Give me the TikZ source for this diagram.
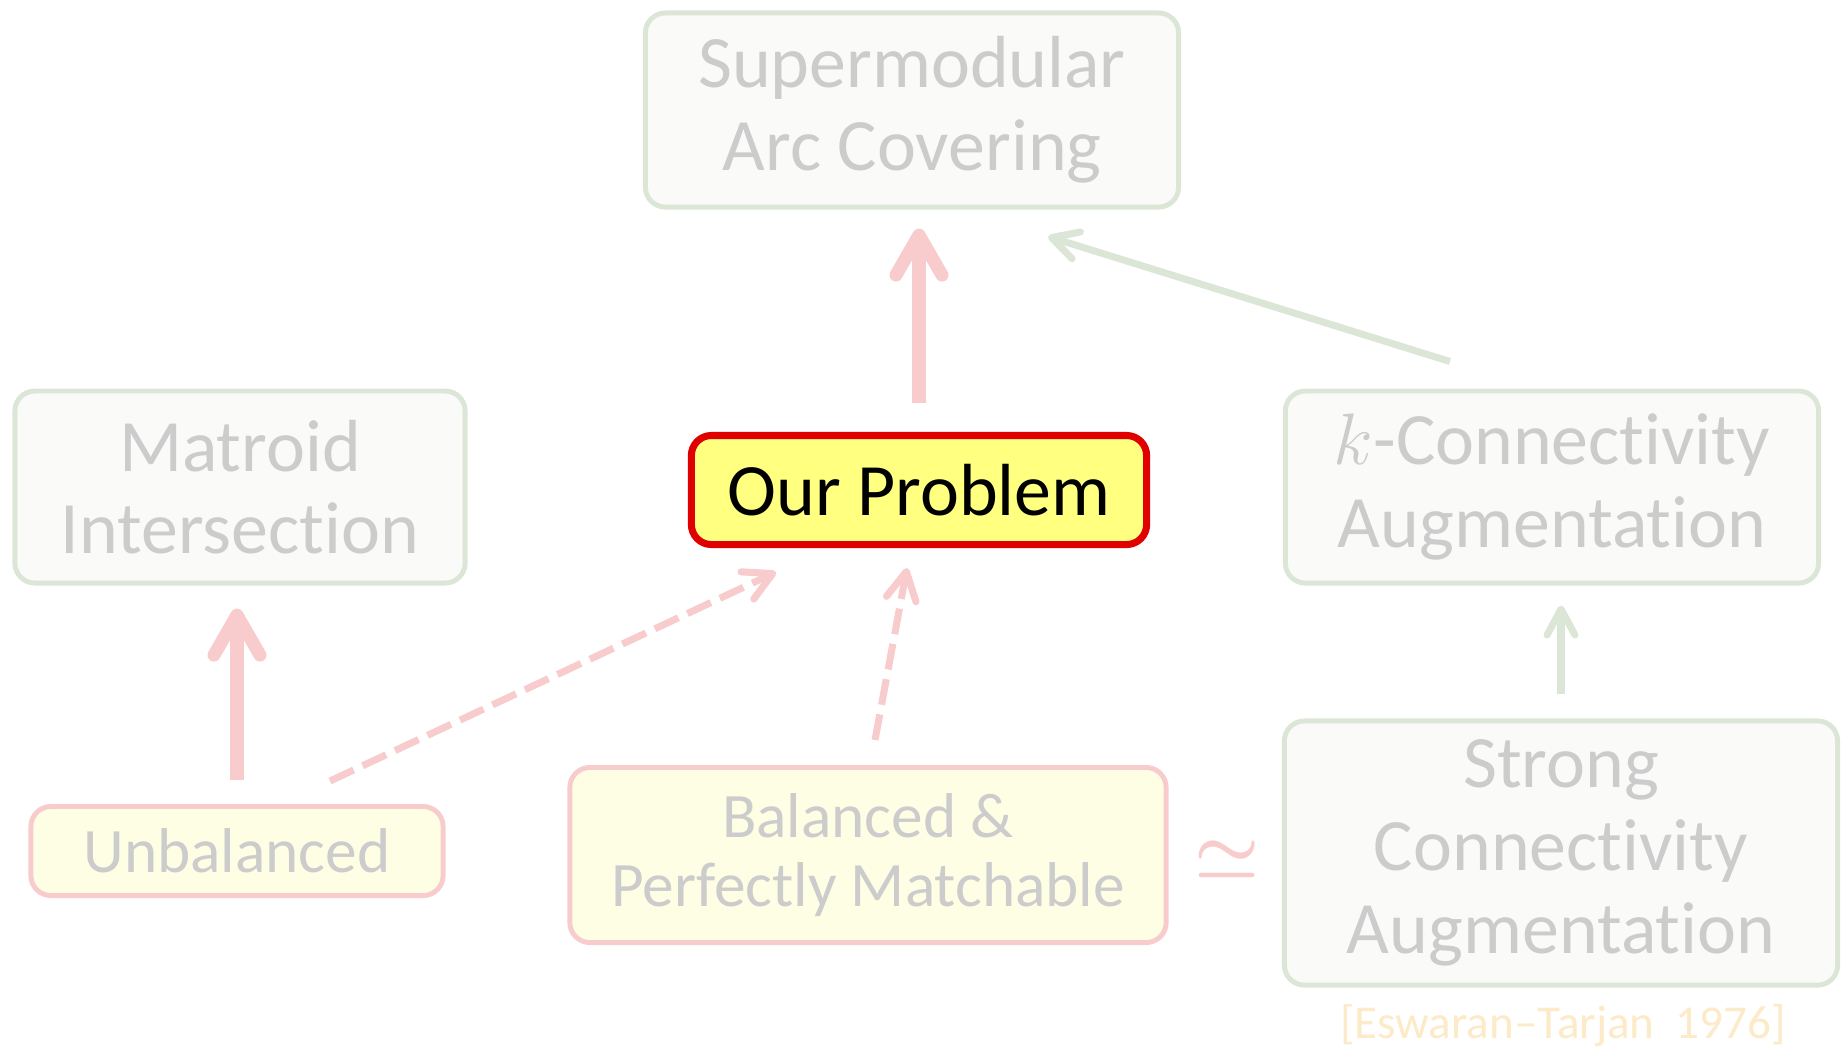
\documentclass[tikz,border=0pt]{standalone}
\usepackage{fontspec}
\setmainfont{Carlito}[RawFeature={-liga;-calt;-clig;-rlig;-dlig}]
\usepackage{xcolor}
\usepackage{tikz}
\usetikzlibrary{arrows.meta}
\definecolor{fade_line}{RGB}{220,230,214}
\definecolor{fade_fill}{RGB}{250,250,248}
\definecolor{fade_text}{RGB}{204,204,204}
\definecolor{pink_line}{RGB}{248,203,205}
\definecolor{pink_fill}{RGB}{254,254,228}
\definecolor{main_line}{RGB}{224,0,0}
\definecolor{main_fill}{RGB}{255,255,128}
\definecolor{cite_text}{RGB}{252,234,200}
\tikzset{ prob_box/.style = {rectangle, rounded corners=0.2cm, line width=1.4pt, align=center, inner sep=0pt} }
\tikzset{ faded_box/.style = {prob_box, draw=fade_line, fill=fade_fill, text=fade_text, font=\fontsize{21}{23.5}\selectfont} }
\tikzset{ pink_box/.style = {prob_box, draw=pink_line, fill=pink_fill, text=fade_text, font=\fontsize{18}{19.6}\selectfont} }
\tikzset{ main_box/.style = {prob_box, line width=2pt, draw=main_line, fill=main_fill, text=black, font=\fontsize{21}{23.5}\selectfont} }
\tikzset{ red_arrow/.style = {pink_line, line width=3.7pt, -{Straight Barb[length=4mm, width=4.6mm, round]}} }
\tikzset{ red_dash/.style = {pink_line, line width=2pt, dash pattern=on 7.4pt off 2.8pt, -{Straight Barb[length=2.8mm, width=3mm, round]}} }
\tikzset{ green_arrow/.style = {fade_line, line width=2pt, -{Straight Barb[length=2.6mm, width=2.8mm, round]}} }

\begin{document}
\begin{tikzpicture}[x=0.01cm, y=-0.01cm]
            \useasboundingbox (0,0) rectangle (1841,1050);
            \node [faded_box, minimum width=5.33cm, minimum height=1.94cm] (0) at (912, 110) {Supermodular\\Arc Covering};
            \node [main_box, minimum width=4.55cm, minimum height=1.09cm] (1) at (919, 490) {Our Problem};
            \node [faded_box, minimum width=5.33cm, minimum height=1.92cm] (2) at (1552, 487) {$k$-Connectivity\\Augmentation};
            \node [faded_box, minimum width=4.50cm, minimum height=1.92cm] (3) at (240, 487) {Matroid\\Intersection};
            \node [pink_box, minimum width=4.12cm, minimum height=0.89cm] (4) at (237, 851) {Unbalanced};
            \node [pink_box, minimum width=5.96cm, minimum height=1.75cm] (5) at (868, 855) {Balanced \&\\Perfectly Matchable};
            \node [faded_box, minimum width=5.53cm, minimum height=2.64cm] (6) at (1561, 853) {Strong\\Connectivity\\Augmentation};
            \node [text=pink_line, font=\boldmath\fontsize{22}{24}\selectfont] (7) at (1227, 859) {$\simeq$};
            \node [text=cite_text, font=\fontsize{13.4}{15}\selectfont] (8) at (1563, 1025) {[Eswaran--Tarjan~~1976]};
            \draw[red_arrow, shorten <=0.29cm, shorten >=0.19cm] (1.north) -- (1.north |- 0.south);
            \draw[red_arrow, shorten <=0.24cm, shorten >=0.23cm] (4.north) -- (4.north |- 3.south);
            \draw[green_arrow, shorten <=0.24cm, shorten >=0.2cm] (6.north) -- (6.north |- 2.south);
            \draw[green_arrow] ([xshift=-1.02cm, yshift=0.27cm]2.north) -- ([xshift=1.36cm, yshift=-0.27cm]0.south);
            \draw[red_dash] ([xshift=0.93cm, yshift=0.23cm]4.north) -- ([xshift=-1.43cm, yshift=-0.24cm]1.south);
            \draw[red_dash] ([xshift=0.07cm, yshift=0.25cm]5.north) -- ([xshift=-0.12cm, yshift=-0.2cm]1.south);
        \end{tikzpicture}
\end{document}
